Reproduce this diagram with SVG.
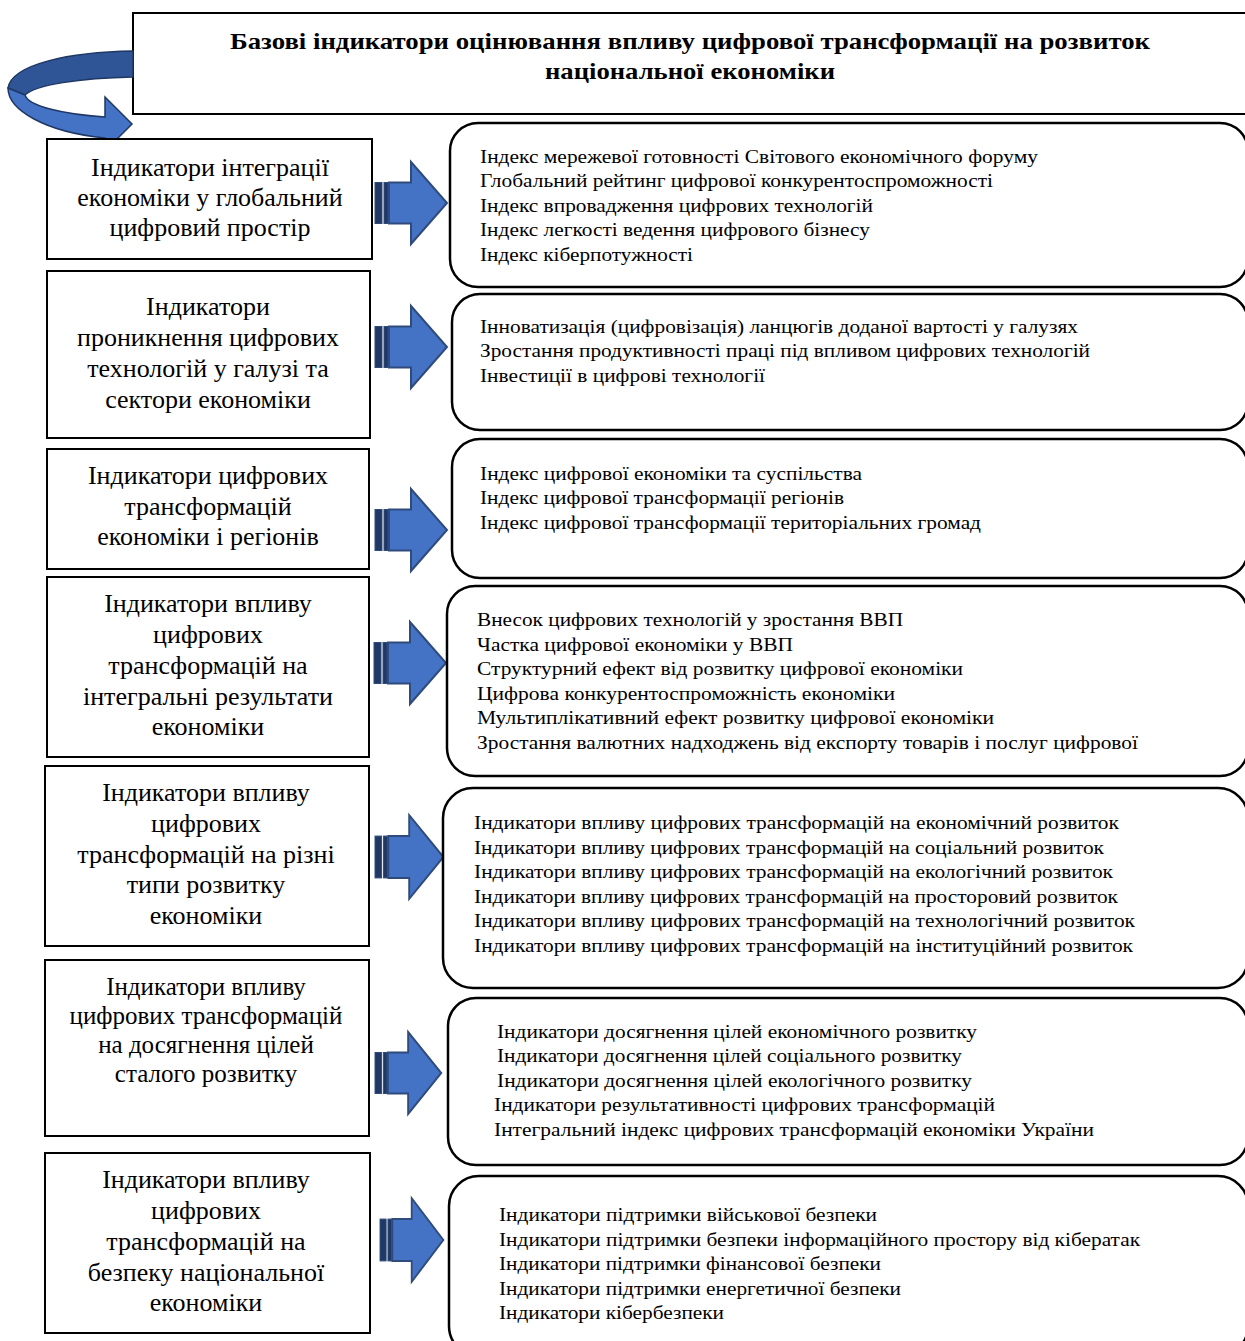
<svg xmlns="http://www.w3.org/2000/svg" width="1245" height="1341" viewBox="0 0 1245 1341">
<style>
.box{fill:#fff;stroke:#000;stroke-width:2}
.rbox{fill:#fff;stroke:#000;stroke-width:2.5}
.lt{font-family:"Liberation Serif","Times New Roman",serif;font-size:26px;fill:#000;text-anchor:middle}
.lt6{font-family:"Liberation Serif","Times New Roman",serif;font-size:25px;fill:#000;text-anchor:middle}
.rt{font-family:"Liberation Serif","Times New Roman",serif;font-size:19.5px;fill:#000}
.tt{font-family:"Liberation Serif","Times New Roman",serif;font-size:23px;font-weight:bold;fill:#000;text-anchor:middle}
.ab{fill:#4472C4;stroke:#2F4B7C;stroke-width:2;stroke-linejoin:miter}
.st{fill:#203864;stroke:#2F4B7C;stroke-width:1}
.cdark{fill:#2F5597;stroke:#1F3864;stroke-width:1.5}
.clight{fill:#4472C4;stroke:#1F3864;stroke-width:1.5}
</style>
<defs>
<g id="arr">
<rect class="st" x="0" y="-20.5" width="7" height="41"/>
<rect class="st" x="9" y="-20.5" width="4" height="41"/>
<polygon class="ab" points="14,-20.5 36,-20.5 36,-41 72,0 36,41 36,20.5 14,20.5"/>
</g>
</defs>

<g id="title">
<rect class="box" x="133" y="13" width="1130" height="101"/>
<text class="tt" x="690" y="49" textLength="920" lengthAdjust="spacingAndGlyphs">Базові індикатори оцінювання впливу цифрової трансформації на розвиток</text>
<text class="tt" x="690" y="79" textLength="290" lengthAdjust="spacingAndGlyphs">національної економіки</text>
</g>

<g id="curved-arrow">
<path class="cdark" d="M133,51 C70,52 12,64 8,88 L25,95 C35,85 80,78 133,77 Z"/>
<path class="clight" d="M8,88 C8,110 45,132 105,138 L105,151 L132,124 L105,97 L105,117 C62,114 28,106 25,95 Z"/>
</g>

<g id="connectors">
<use href="#arr" transform="translate(375,203)"/>
<use href="#arr" transform="translate(375,347)"/>
<use href="#arr" transform="translate(375,530)"/>
<use href="#arr" transform="translate(374,663)"/>
<use href="#arr" transform="translate(375,857) scale(0.95,1.02)"/>
<use href="#arr" transform="translate(375,1073) scale(0.92,1)"/>
<use href="#arr" transform="translate(380,1240) scale(0.88,1.02)"/>
</g>

<g id="left1">
<rect class="box" x="47" y="139" width="325" height="120"/>
<text class="lt" x="210" y="176">Індикатори інтеграції</text>
<text class="lt" x="210" y="206">економіки у глобальний</text>
<text class="lt" x="210" y="236">цифровий простір</text>
</g>
<g id="left2">
<rect class="box" x="47" y="271" width="323" height="167"/>
<text class="lt" x="208" y="315">Індикатори</text>
<text class="lt" x="208" y="346">проникнення цифрових</text>
<text class="lt" x="208" y="377">технологій у галузі та</text>
<text class="lt" x="208" y="408">сектори економіки</text>
</g>
<g id="left3">
<rect class="box" x="47" y="449" width="322" height="120"/>
<text class="lt" x="208" y="484">Індикатори цифрових</text>
<text class="lt" x="208" y="515">трансформацій</text>
<text class="lt" x="208" y="545">економіки і регіонів</text>
</g>
<g id="left4">
<rect class="box" x="47" y="577" width="322" height="180"/>
<text class="lt" x="208" y="612">Індикатори впливу</text>
<text class="lt" x="208" y="643">цифрових</text>
<text class="lt" x="208" y="674">трансформацій на</text>
<text class="lt" x="208" y="705">інтегральні результати</text>
<text class="lt" x="208" y="735">економіки</text>
</g>
<g id="left5">
<rect class="box" x="45" y="766" width="324" height="180"/>
<text class="lt" x="206" y="801">Індикатори впливу</text>
<text class="lt" x="206" y="832">цифрових</text>
<text class="lt" x="206" y="863">трансформацій на різні</text>
<text class="lt" x="206" y="893">типи розвитку</text>
<text class="lt" x="206" y="924">економіки</text>
</g>
<g id="left6">
<rect class="box" x="45" y="960" width="324" height="176"/>
<text class="lt6" x="206" y="995">Індикатори впливу</text>
<text class="lt6" x="206" y="1024">цифрових трансформацій</text>
<text class="lt6" x="206" y="1053">на досягнення цілей</text>
<text class="lt6" x="206" y="1082">сталого розвитку</text>
</g>
<g id="left7">
<rect class="box" x="45" y="1153" width="325" height="180"/>
<text class="lt" x="206" y="1188">Індикатори впливу</text>
<text class="lt" x="206" y="1219">цифрових</text>
<text class="lt" x="206" y="1250">трансформацій на</text>
<text class="lt" x="206" y="1281">безпеку національної</text>
<text class="lt" x="206" y="1311">економіки</text>
</g>

<g id="right1">
<rect class="rbox" x="450" y="123" width="798" height="164" rx="28"/>
<text class="rt" x="480" y="163" textLength="558" lengthAdjust="spacingAndGlyphs">Індекс мережевої готовності Світового економічного форуму</text>
<text class="rt" x="480" y="187" textLength="513" lengthAdjust="spacingAndGlyphs">Глобальний рейтинг цифрової конкурентоспроможності</text>
<text class="rt" x="480" y="212" textLength="393" lengthAdjust="spacingAndGlyphs">Індекс впровадження цифрових технологій</text>
<text class="rt" x="480" y="236" textLength="390" lengthAdjust="spacingAndGlyphs">Індекс легкості ведення цифрового бізнесу</text>
<text class="rt" x="480" y="261" textLength="213" lengthAdjust="spacingAndGlyphs">Індекс кіберпотужності</text>
</g>
<g id="right2">
<rect class="rbox" x="452" y="294" width="796" height="136" rx="28"/>
<text class="rt" x="480" y="333" textLength="598" lengthAdjust="spacingAndGlyphs">Інноватизація (цифровізація) ланцюгів доданої вартості у галузях</text>
<text class="rt" x="480" y="357" textLength="610" lengthAdjust="spacingAndGlyphs">Зростання продуктивності праці під впливом цифрових технологій</text>
<text class="rt" x="480" y="382" textLength="285" lengthAdjust="spacingAndGlyphs">Інвестиції в цифрові технології</text>
</g>
<g id="right3">
<rect class="rbox" x="452" y="439" width="796" height="139" rx="28"/>
<text class="rt" x="480" y="480" textLength="382" lengthAdjust="spacingAndGlyphs">Індекс цифрової економіки та суспільства</text>
<text class="rt" x="480" y="504" textLength="364" lengthAdjust="spacingAndGlyphs">Індекс цифрової трансформації регіонів</text>
<text class="rt" x="480" y="529" textLength="501" lengthAdjust="spacingAndGlyphs">Індекс цифрової трансформації територіальних громад</text>
</g>
<g id="right4">
<rect class="rbox" x="447" y="586" width="801" height="190" rx="28"/>
<text class="rt" x="477" y="626" textLength="426" lengthAdjust="spacingAndGlyphs">Внесок цифрових технологій у зростання ВВП</text>
<text class="rt" x="477" y="651" textLength="316" lengthAdjust="spacingAndGlyphs">Частка цифрової економіки у ВВП</text>
<text class="rt" x="477" y="675" textLength="486" lengthAdjust="spacingAndGlyphs">Структурний ефект від розвитку цифрової економіки</text>
<text class="rt" x="477" y="700" textLength="418" lengthAdjust="spacingAndGlyphs">Цифрова конкурентоспроможність економіки</text>
<text class="rt" x="477" y="724" textLength="517" lengthAdjust="spacingAndGlyphs">Мультиплікативний ефект розвитку цифрової економіки</text>
<text class="rt" x="477" y="749" textLength="661" lengthAdjust="spacingAndGlyphs">Зростання валютних надходжень від експорту товарів і послуг цифрової</text>
</g>
<g id="right5">
<rect class="rbox" x="443" y="788" width="805" height="200" rx="30"/>
<text class="rt" x="474" y="829" textLength="645" lengthAdjust="spacingAndGlyphs">Індикатори впливу цифрових трансформацій на економічний розвиток</text>
<text class="rt" x="474" y="854" textLength="630" lengthAdjust="spacingAndGlyphs">Індикатори впливу цифрових трансформацій на соціальний розвиток</text>
<text class="rt" x="474" y="878" textLength="639" lengthAdjust="spacingAndGlyphs">Індикатори впливу цифрових трансформацій на екологічний розвиток</text>
<text class="rt" x="474" y="903" textLength="644" lengthAdjust="spacingAndGlyphs">Індикатори впливу цифрових трансформацій на просторовий розвиток</text>
<text class="rt" x="474" y="927" textLength="661" lengthAdjust="spacingAndGlyphs">Індикатори впливу цифрових трансформацій на технологічний розвиток</text>
<text class="rt" x="474" y="952" textLength="659" lengthAdjust="spacingAndGlyphs">Індикатори впливу цифрових трансформацій на інституційний розвиток</text>
</g>
<g id="right6">
<rect class="rbox" x="448" y="998" width="800" height="167" rx="28"/>
<text class="rt" x="497" y="1038" textLength="480" lengthAdjust="spacingAndGlyphs">Індикатори досягнення цілей економічного розвитку</text>
<text class="rt" x="497" y="1062" textLength="465" lengthAdjust="spacingAndGlyphs">Індикатори досягнення цілей соціального розвитку</text>
<text class="rt" x="497" y="1087" textLength="475" lengthAdjust="spacingAndGlyphs">Індикатори досягнення цілей екологічного розвитку</text>
<text class="rt" x="494" y="1111" textLength="501" lengthAdjust="spacingAndGlyphs">Індикатори результативності цифрових трансформацій</text>
<text class="rt" x="494" y="1136" textLength="600" lengthAdjust="spacingAndGlyphs">Інтегральний індекс цифрових трансформацій економіки України</text>
</g>
<g id="right7">
<rect class="rbox" x="449" y="1176" width="799" height="180" rx="30"/>
<text class="rt" x="499" y="1221" textLength="378" lengthAdjust="spacingAndGlyphs">Індикатори підтримки військової безпеки</text>
<text class="rt" x="499" y="1246" textLength="641" lengthAdjust="spacingAndGlyphs">Індикатори підтримки безпеки інформаційного простору від кібератак</text>
<text class="rt" x="499" y="1270" textLength="382" lengthAdjust="spacingAndGlyphs">Індикатори підтримки фінансової безпеки</text>
<text class="rt" x="499" y="1295" textLength="402" lengthAdjust="spacingAndGlyphs">Індикатори підтримки енергетичної безпеки</text>
<text class="rt" x="499" y="1319" textLength="225" lengthAdjust="spacingAndGlyphs">Індикатори кібербезпеки</text>
</g>
</svg>
